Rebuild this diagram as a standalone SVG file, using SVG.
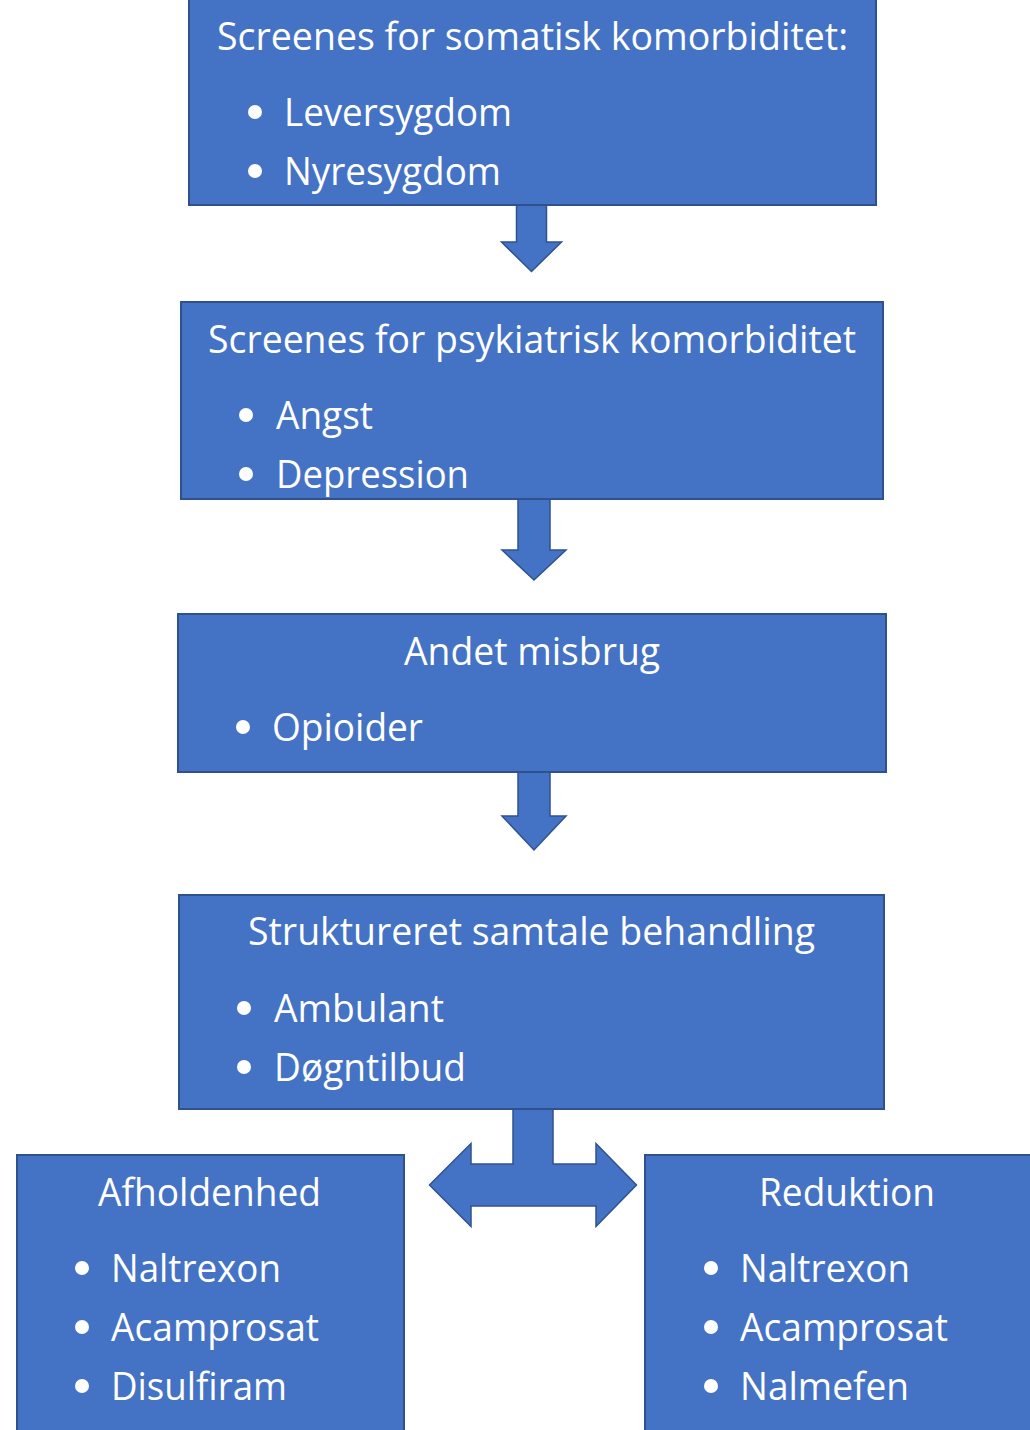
<svg xmlns="http://www.w3.org/2000/svg" width="1030" height="1430" viewBox="0 0 1030 1430">
<style>
.box{fill:#4472C4;stroke:#2F528F;stroke-width:2}
.arr{fill:#4472C4;stroke:#2F528F;stroke-width:1.5;stroke-linejoin:miter}
text{font-family:"Open Sans","Noto Sans","Liberation Sans",sans-serif;font-size:38px;fill:#ffffff}
.dot{fill:#ffffff}
</style>
<rect width="1030" height="1430" fill="#ffffff"/>
<g id="connectors">
<polygon class="arr" points="516.5,205 546.5,205 546.5,242 561.5,242 531.5,271.5 501.5,242 516.5,242"/>
<polygon class="arr" points="518,499 550,499 550,550 566,550 534,580 502,550 518,550"/>
<polygon class="arr" points="518,772 550,772 550,816 566,816 534,850 502,816 518,816"/>
<polygon class="arr" points="513,1109 553,1109 553,1164 596,1164 596,1143.5 636.5,1185 596,1226.5 596,1206 471,1206 471,1226.5 429.5,1185 471,1143.5 471,1164 513,1164"/>
</g>
<g id="node1">
<rect class="box" x="189" y="-1" width="687" height="206"/>
<text x="217" y="50" textLength="631" lengthAdjust="spacingAndGlyphs">Screenes for somatisk komorbiditet:</text>
<circle class="dot" cx="255" cy="112" r="7"/>
<text x="284" y="126" textLength="228" lengthAdjust="spacingAndGlyphs">Leversygdom</text>
<circle class="dot" cx="255" cy="171" r="7"/>
<text x="284" y="185" textLength="217" lengthAdjust="spacingAndGlyphs">Nyresygdom</text>
</g>
<g id="node2">
<rect class="box" x="181" y="302" width="702" height="197"/>
<text x="208" y="353" textLength="648" lengthAdjust="spacingAndGlyphs">Screenes for psykiatrisk komorbiditet</text>
<circle class="dot" cx="246" cy="415" r="7"/>
<text x="276" y="429" textLength="97" lengthAdjust="spacingAndGlyphs">Angst</text>
<circle class="dot" cx="246" cy="474" r="7"/>
<text x="276" y="488" textLength="193" lengthAdjust="spacingAndGlyphs">Depression</text>
</g>
<g id="node3">
<rect class="box" x="178" y="614" width="708" height="158"/>
<text x="404" y="665" textLength="256" lengthAdjust="spacingAndGlyphs">Andet misbrug</text>
<circle class="dot" cx="243" cy="727" r="7"/>
<text x="272" y="741" textLength="151" lengthAdjust="spacingAndGlyphs">Opioider</text>
</g>
<g id="node4">
<rect class="box" x="179" y="895" width="705" height="214"/>
<text x="248" y="945" textLength="567" lengthAdjust="spacingAndGlyphs">Struktureret samtale behandling</text>
<circle class="dot" cx="244" cy="1008" r="7"/>
<text x="274" y="1022" textLength="170" lengthAdjust="spacingAndGlyphs">Ambulant</text>
<circle class="dot" cx="244" cy="1067" r="7"/>
<text x="274" y="1081" textLength="192" lengthAdjust="spacingAndGlyphs">Døgntilbud</text>
</g>
<g id="node5">
<rect class="box" x="17" y="1155" width="387" height="280"/>
<text x="98" y="1206" textLength="223" lengthAdjust="spacingAndGlyphs">Afholdenhed</text>
<circle class="dot" cx="82" cy="1268" r="7"/>
<text x="111" y="1282" textLength="170" lengthAdjust="spacingAndGlyphs">Naltrexon</text>
<circle class="dot" cx="82" cy="1327" r="7"/>
<text x="111" y="1341" textLength="208" lengthAdjust="spacingAndGlyphs">Acamprosat</text>
<circle class="dot" cx="82" cy="1386" r="7"/>
<text x="111" y="1400" textLength="176" lengthAdjust="spacingAndGlyphs">Disulfiram</text>
</g>
<g id="node6">
<rect class="box" x="645" y="1155" width="390" height="280"/>
<text x="759" y="1206" textLength="176" lengthAdjust="spacingAndGlyphs">Reduktion</text>
<circle class="dot" cx="711" cy="1268" r="7"/>
<text x="740" y="1282" textLength="170" lengthAdjust="spacingAndGlyphs">Naltrexon</text>
<circle class="dot" cx="711" cy="1327" r="7"/>
<text x="740" y="1341" textLength="208" lengthAdjust="spacingAndGlyphs">Acamprosat</text>
<circle class="dot" cx="711" cy="1386" r="7"/>
<text x="740" y="1400" textLength="169" lengthAdjust="spacingAndGlyphs">Nalmefen</text>
</g>
</svg>
